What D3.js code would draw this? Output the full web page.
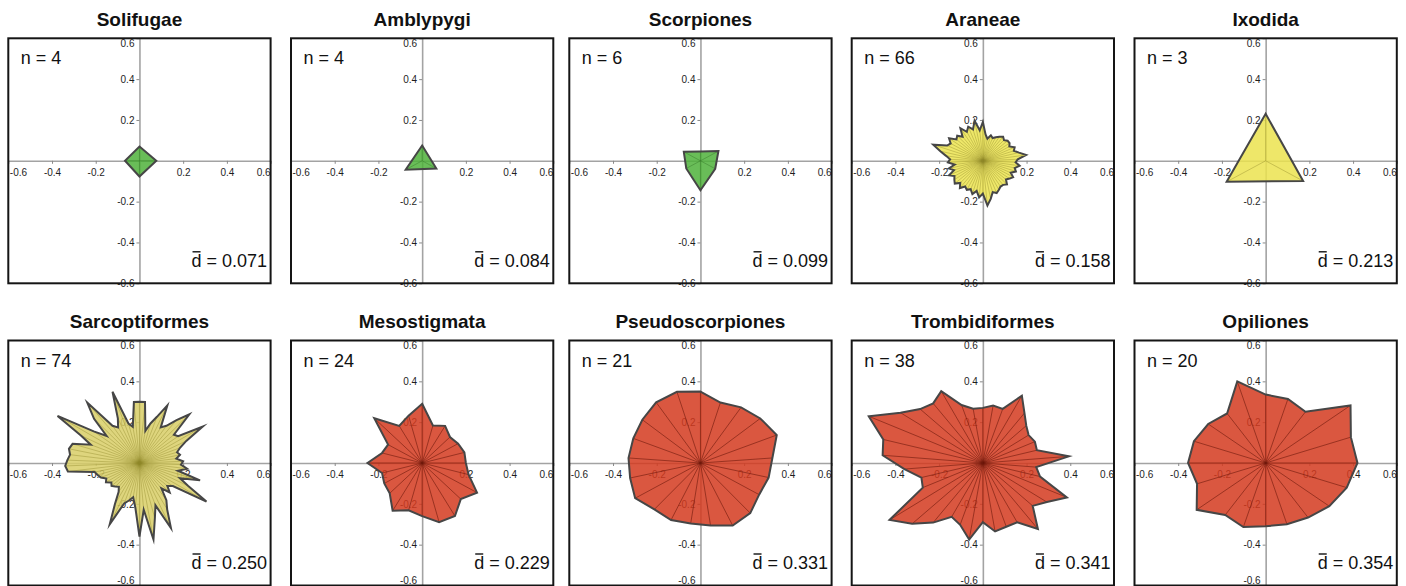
<!DOCTYPE html>
<html>
<head>
<meta charset="utf-8">
<script src="https://cdn.jsdelivr.net/npm/d3@7"></script>
<style>
  html, body { margin: 0; padding: 0; background: #fff; }
  svg { display: block; font-family: "Liberation Sans", Arial, Helvetica, sans-serif; }
</style>
</head>
<body>
<svg id="chart" width="1406" height="586"></svg>
<script>
// Orders shown, in panel order (left to right, top row first)
const orders = ["Solifugae", "Amblypygi", "Scorpiones", "Araneae", "Ixodida",
                "Sarcoptiformes", "Mesostigmata", "Pseudoscorpiones", "Trombidiformes", "Opiliones"];
const sampleSizes = [4, 4, 6, 66, 3, 74, 24, 21, 38, 20];
const meanDistances = ["0.071", "0.084", "0.099", "0.158", "0.213", "0.250", "0.229", "0.331", "0.341", "0.354"];
const distanceClass = ["low", "low", "low", "mid", "mid", "mid", "high", "high", "high", "high"];

// Distances per order, listed clockwise starting from 12 o'clock (equal angular steps)
const solifugae = [0.070, 0.077, 0.077, 0.066];
const amblypygi = [0.075, 0.075, 0.087];
const scorpiones = [0.046, 0.095, 0.078, 0.144, 0.075, 0.088];
const araneae = [
  0.19, 0.13, 0.11, 0.13, 0.12, 0.13, 0.14, 0.15, 0.14, 0.15, 0.15,
  0.14, 0.16, 0.15, 0.17, 0.20, 0.16, 0.15, 0.17, 0.15, 0.16, 0.14,
  0.16, 0.15, 0.14, 0.16, 0.15, 0.15, 0.16, 0.17, 0.16, 0.19, 0.22,
  0.16, 0.18, 0.15, 0.17, 0.15, 0.16, 0.15, 0.17, 0.15, 0.17, 0.16,
  0.15, 0.17, 0.14, 0.16, 0.13, 0.16, 0.15, 0.17, 0.20, 0.24, 0.18,
  0.17, 0.19, 0.16, 0.17, 0.15, 0.19, 0.16, 0.18, 0.16, 0.20, 0.15
];
const ixodida = [0.230, 0.198, 0.206];
const sarcoptiformes = [
  0.30, 0.30, 0.16, 0.20, 0.24, 0.31, 0.20, 0.22, 0.27, 0.33,
  0.21, 0.22, 0.34, 0.24, 0.20, 0.18, 0.19, 0.17, 0.20, 0.19,
  0.22, 0.18, 0.29, 0.20, 0.25, 0.36, 0.19, 0.17, 0.20, 0.16,
  0.22, 0.26, 0.35, 0.22, 0.28, 0.38, 0.23, 0.36, 0.22, 0.17,
  0.19, 0.21, 0.33, 0.23, 0.17, 0.15, 0.16, 0.17, 0.16, 0.18,
  0.17, 0.19, 0.20, 0.21, 0.33, 0.34, 0.33, 0.32, 0.33, 0.32,
  0.24, 0.30, 0.44, 0.26, 0.20, 0.30, 0.38, 0.22, 0.20, 0.24,
  0.37, 0.20, 0.18, 0.30
];
const mesostigmata = [
  0.29, 0.19, 0.21, 0.18, 0.19, 0.20, 0.20, 0.22, 0.29, 0.25, 0.30, 0.30,
  0.26, 0.24, 0.27, 0.21, 0.20, 0.19, 0.25, 0.19, 0.18, 0.31, 0.21, 0.24
];
const pseudoscorpiones = [
  0.350, 0.310, 0.330, 0.350, 0.375, 0.330, 0.320, 0.310, 0.335, 0.340, 0.310,
  0.300, 0.310, 0.310, 0.345, 0.330, 0.330, 0.330, 0.340, 0.360, 0.365
];
const trombidiformes = [
  0.270, 0.285, 0.280, 0.375, 0.310, 0.270, 0.250, 0.260, 0.255, 0.395,
  0.245, 0.270, 0.420, 0.350, 0.310, 0.410, 0.330, 0.330, 0.340, 0.290,
  0.380, 0.320, 0.300, 0.370, 0.440, 0.510, 0.300, 0.290, 0.360, 0.460,
  0.470, 0.570, 0.450, 0.390, 0.370, 0.400, 0.300, 0.270
];
const opiliones = [
  0.335, 0.330, 0.310, 0.480, 0.410, 0.420, 0.390, 0.360, 0.330, 0.315,
  0.310, 0.330, 0.315, 0.390, 0.330, 0.355, 0.345, 0.325, 0.300, 0.420
];
const distancesByOrder = [solifugae, amblypygi, scorpiones, araneae, ixodida,
                          sarcoptiformes, mesostigmata, pseudoscorpiones, trombidiformes, opiliones];

const axisTicks = [-0.6, -0.4, -0.2, 0.2, 0.4, 0.6];
const axisDomain = [-0.6, 0.6];

// ---- layout & styling ----
const colLeft = [8.3, 291, 569.3, 851.7, 1134.5];
const rowTop = [38.3, 340.5];
const boxW = 262.3, boxH = 245;

const fillColor = d3.scaleOrdinal()
  .domain(["low", "mid", "high"])
  .range(["#4fb13b", "#ebe34f", "#d3391f"]);
const spokeColor = d3.scaleOrdinal()
  .domain(["low", "mid", "high"])
  .range(["#2f6e22", "#8f8628", "#6e1a0c"]);
// the densest star gets a softer khaki tone
const fillOverride = { Sarcoptiformes: "#d8ce66" };

const svg = d3.select("#chart");
const tickFmt = v => (v < 0 ? "-" : "") + Math.abs(v).toFixed(1);

orders.forEach((name, i) => {
  const col = i % 5, row = Math.floor(i / 5);
  const left = colLeft[col], top = rowTop[row];
  const right = left + boxW, bottom = top + boxH;

  const x = d3.scaleLinear().domain(axisDomain).range([left, right]);
  const y = d3.scaleLinear().domain(axisDomain).range([bottom, top]);
  const cx = x(0), cy = y(0);

  const g = svg.append("g").attr("class", "panel");

  // white plot area
  g.append("rect").attr("x", left).attr("y", top).attr("width", boxW).attr("height", boxH)
    .attr("fill", "#fff");

  // horizontal axis through the origin
  const xAxis = g.append("g").attr("transform", `translate(0,${cy})`)
    .call(d3.axisBottom(x).tickValues(axisTicks).tickFormat(tickFmt)
      .tickSize(3).tickSizeOuter(0).tickPadding(5));
  // vertical axis through the origin
  const yAxis = g.append("g").attr("transform", `translate(${cx},0)`)
    .call(d3.axisLeft(y).tickValues(axisTicks).tickFormat(tickFmt)
      .tickSize(3).tickSizeOuter(0).tickPadding(2));

  [xAxis, yAxis].forEach(ax => {
    ax.attr("font-family", null).attr("font-size", null);
    ax.select(".domain").attr("stroke", "#a3a3a3").attr("stroke-width", 1.6);
    ax.selectAll(".tick line").attr("stroke", "#8a8a8a").attr("stroke-width", 1);
    ax.selectAll(".tick text").attr("fill", "#1e1e1e").style("font-size", "10px")
      .style("font-family", '"Liberation Sans", Arial, sans-serif');
  });

  // keep end labels inside the frame / picture
  xAxis.selectAll(".tick").each(function (d) {
    const t = d3.select(this).select("text");
    const w = t.node().getComputedTextLength();
    const px = x(d);
    let shift = 0;
    if (px - w / 2 < left + 1) shift = left + 1 - (px - w / 2);
    if (px + w / 2 > right - 0.5) shift = (right - 0.5) - (px + w / 2);
    t.attr("x", shift);
  });
  yAxis.selectAll(".tick").each(function (d) {
    const t = d3.select(this).select("text");
    const py = y(d);
    if (py < top + 5) t.attr("y", top + 5 - py);
    if (py > 580) t.attr("y", 580 - py);
  });

  // star polygon
  const vals = distancesByOrder[i];
  const n = vals.length;
  const pts = vals.map((r, k) => {
    const a = 2 * Math.PI * k / n;
    return [x(r * Math.sin(a)), y(r * Math.cos(a))];
  });
  const cls = distanceClass[i];
  const line = d3.line().curve(d3.curveLinearClosed);

  g.append("path").attr("d", line(pts))
    .attr("fill", fillOverride[name] || fillColor(cls)).attr("fill-opacity", 0.85)
    .attr("stroke", "none");

  g.append("g").selectAll("line").data(pts).join("line")
    .attr("x1", cx).attr("y1", cy)
    .attr("x2", p => p[0]).attr("y2", p => p[1])
    .attr("stroke", spokeColor(cls))
    .attr("stroke-opacity", cls === "high" ? 0.75 : 0.5)
    .attr("stroke-width", 0.8);

  g.append("path").attr("d", line(pts))
    .attr("fill", "none").attr("stroke", "#464646").attr("stroke-width", 2)
    .attr("stroke-linejoin", "miter").attr("stroke-miterlimit", 6);

  // frame
  g.append("rect").attr("x", left).attr("y", top).attr("width", boxW).attr("height", boxH)
    .attr("fill", "none").attr("stroke", "#151515").attr("stroke-width", 2);

  // title
  g.append("text").attr("x", (left + right) / 2).attr("y", top - 12.5)
    .attr("text-anchor", "middle").attr("font-weight", "bold").attr("font-size", 19)
    .attr("fill", "#111").text(name);

  // sample size
  g.append("text").attr("x", left + 12.5).attr("y", top + 26)
    .attr("font-size", 18).attr("fill", "#111").text(`n = ${sampleSizes[i]}`);

  // mean distance, d with an overbar
  const dt = g.append("text").attr("x", right - 3.5).attr("y", bottom - 16.5)
    .attr("text-anchor", "end").attr("font-size", 18).attr("fill", "#111")
    .text(`d = ${meanDistances[i]}`);
  const ext = dt.node().getExtentOfChar(0);
  g.append("line")
    .attr("x1", ext.x + 1).attr("x2", ext.x + ext.width - 1)
    .attr("y1", bottom - 16.5 - 15).attr("y2", bottom - 16.5 - 15)
    .attr("stroke", "#111").attr("stroke-width", 1.4);
});
</script>
</body>
</html>
